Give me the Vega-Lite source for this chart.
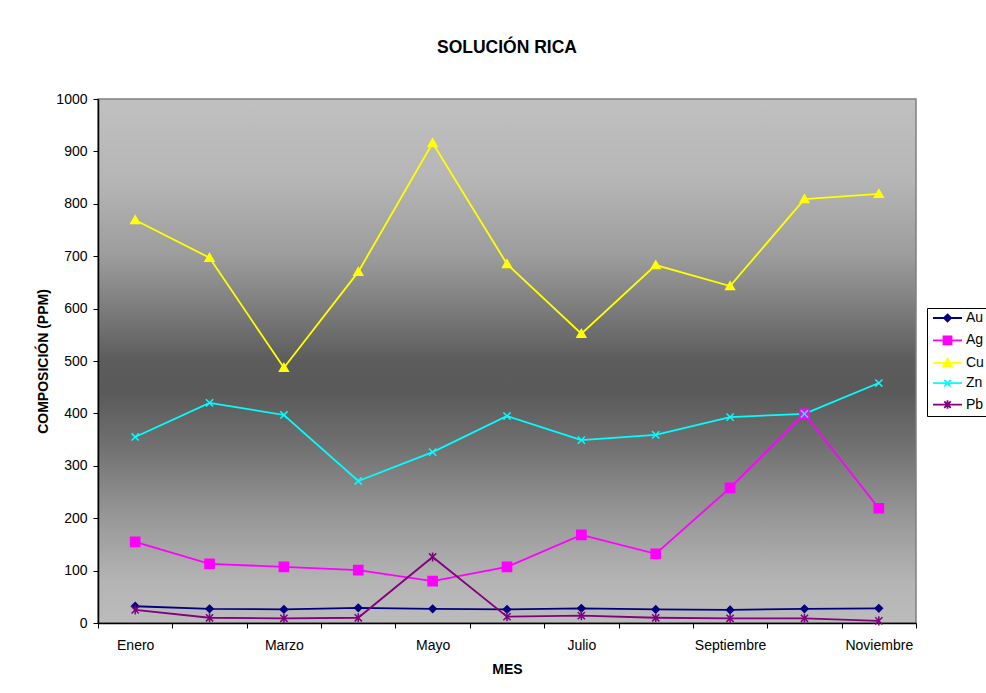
{
  "$schema": "https://vega.github.io/schema/vega-lite/v6.json",
  "width": 818,
  "height": 524,
  "autosize": {"type": "none"},
  "padding": {"left": 98, "top": 99, "right": 70, "bottom": 70},
  "background": "white",
  "title": {"text": "SOLUCIÓN RICA", "fontSize": 17.5, "fontWeight": "bold", "font": "Liberation Sans", "color": "black", "anchor": "middle", "frame": "group", "offset": 36},
  "config": {
    "font": "Liberation Sans",
    "view": {
      "stroke": "#808080",
      "strokeWidth": 1.5,
      "fill": {"gradient": "linear", "x1": 0, "y1": 0, "x2": 0, "y2": 1, "stops": [
        {"offset": 0, "color": "#c0c0c0"},
        {"offset": 0.15, "color": "#b6b6b6"},
        {"offset": 0.3, "color": "#9c9c9c"},
        {"offset": 0.42, "color": "#767676"},
        {"offset": 0.5, "color": "#5c5c5c"},
        {"offset": 0.56, "color": "#5a5a5a"},
        {"offset": 0.66, "color": "#707070"},
        {"offset": 0.8, "color": "#989898"},
        {"offset": 0.92, "color": "#b4b4b4"},
        {"offset": 1, "color": "#bcbcbc"}
      ]}
    },
    "axis": {
      "domainColor": "black", "domainWidth": 1.5, "tickColor": "black", "tickWidth": 1, "tickSize": 5,
      "labelColor": "black", "labelFontSize": 14, "labelFont": "Liberation Sans",
      "titleColor": "black", "titleFontSize": 14, "titleFontWeight": "bold", "titleFont": "Liberation Sans",
      "grid": false
    },
    "legend": {"labelFont": "Liberation Sans"}
  },
  "data": {"values": [
    {"mes": "Enero", "metal": "Au", "valor": 32},
    {"mes": "Febrero", "metal": "Au", "valor": 27},
    {"mes": "Marzo", "metal": "Au", "valor": 26},
    {"mes": "Abril", "metal": "Au", "valor": 29},
    {"mes": "Mayo", "metal": "Au", "valor": 27},
    {"mes": "Junio", "metal": "Au", "valor": 26},
    {"mes": "Julio", "metal": "Au", "valor": 28},
    {"mes": "Agosto", "metal": "Au", "valor": 26},
    {"mes": "Septiembre", "metal": "Au", "valor": 25},
    {"mes": "Octubre", "metal": "Au", "valor": 27},
    {"mes": "Noviembre", "metal": "Au", "valor": 28},
    {"mes": "Enero", "metal": "Ag", "valor": 155},
    {"mes": "Febrero", "metal": "Ag", "valor": 113},
    {"mes": "Marzo", "metal": "Ag", "valor": 107},
    {"mes": "Abril", "metal": "Ag", "valor": 101},
    {"mes": "Mayo", "metal": "Ag", "valor": 80},
    {"mes": "Junio", "metal": "Ag", "valor": 107},
    {"mes": "Julio", "metal": "Ag", "valor": 168},
    {"mes": "Agosto", "metal": "Ag", "valor": 132},
    {"mes": "Septiembre", "metal": "Ag", "valor": 258},
    {"mes": "Octubre", "metal": "Ag", "valor": 399},
    {"mes": "Noviembre", "metal": "Ag", "valor": 219},
    {"mes": "Enero", "metal": "Cu", "valor": 769},
    {"mes": "Febrero", "metal": "Cu", "valor": 697},
    {"mes": "Marzo", "metal": "Cu", "valor": 487},
    {"mes": "Abril", "metal": "Cu", "valor": 670},
    {"mes": "Mayo", "metal": "Cu", "valor": 916},
    {"mes": "Junio", "metal": "Cu", "valor": 685},
    {"mes": "Julio", "metal": "Cu", "valor": 552},
    {"mes": "Agosto", "metal": "Cu", "valor": 683},
    {"mes": "Septiembre", "metal": "Cu", "valor": 643},
    {"mes": "Octubre", "metal": "Cu", "valor": 809},
    {"mes": "Noviembre", "metal": "Cu", "valor": 819},
    {"mes": "Enero", "metal": "Zn", "valor": 355},
    {"mes": "Febrero", "metal": "Zn", "valor": 420},
    {"mes": "Marzo", "metal": "Zn", "valor": 397},
    {"mes": "Abril", "metal": "Zn", "valor": 271},
    {"mes": "Mayo", "metal": "Zn", "valor": 326},
    {"mes": "Junio", "metal": "Zn", "valor": 395},
    {"mes": "Julio", "metal": "Zn", "valor": 349},
    {"mes": "Agosto", "metal": "Zn", "valor": 359},
    {"mes": "Septiembre", "metal": "Zn", "valor": 393},
    {"mes": "Octubre", "metal": "Zn", "valor": 399},
    {"mes": "Noviembre", "metal": "Zn", "valor": 458},
    {"mes": "Enero", "metal": "Pb", "valor": 25},
    {"mes": "Febrero", "metal": "Pb", "valor": 10},
    {"mes": "Marzo", "metal": "Pb", "valor": 9},
    {"mes": "Abril", "metal": "Pb", "valor": 10},
    {"mes": "Mayo", "metal": "Pb", "valor": 126},
    {"mes": "Junio", "metal": "Pb", "valor": 12},
    {"mes": "Julio", "metal": "Pb", "valor": 14},
    {"mes": "Agosto", "metal": "Pb", "valor": 10},
    {"mes": "Septiembre", "metal": "Pb", "valor": 9},
    {"mes": "Octubre", "metal": "Pb", "valor": 9},
    {"mes": "Noviembre", "metal": "Pb", "valor": 4}
  ]},
  "encoding": {
    "x": {
      "field": "mes", "type": "ordinal", "bandPosition": 0.5,
      "sort": ["Enero", "Febrero", "Marzo", "Abril", "Mayo", "Junio", "Julio", "Agosto", "Septiembre", "Octubre", "Noviembre"],
      "scale": {"type": "band", "paddingInner": 0, "paddingOuter": 0},
      "axis": {"title": "MES", "labelAngle": 0, "tickBand": "extent", "labelPadding": 10, "titlePadding": 10,
        "labelExpr": "indexof(['Enero','Marzo','Mayo','Julio','Septiembre','Noviembre'], datum.value) >= 0 ? datum.value : ''"}
    },
    "y": {
      "field": "valor", "type": "quantitative",
      "scale": {"domain": [0, 1000], "nice": false},
      "axis": {"title": "COMPOSICIÓN (PPM)", "format": "d", "values": [0, 100, 200, 300, 400, 500, 600, 700, 800, 900, 1000], "labelPadding": 6, "titlePadding": 5}
    }
  },
  "layer": [
    {
      "mark": {"type": "line", "strokeWidth": 1.8},
      "encoding": {
        "color": {"field": "metal", "type": "nominal", "scale": {"domain": ["Au", "Ag", "Cu", "Zn", "Pb"], "range": ["#000080", "#ff00ff", "#ffff00", "#00ffff", "#800080"]}, "legend": null}
      }
    },
    {
      "mark": {"type": "point", "filled": true, "size": 64, "strokeWidth": 1.5, "opacity": 1},
      "encoding": {
        "color": {"field": "metal", "type": "nominal", "scale": {"domain": ["Au", "Ag", "Cu", "Zn", "Pb"], "range": ["#000080", "#ff00ff", "#ffff00", "#00ffff", "#800080"]}, "legend": null},
        "stroke": {"field": "metal", "type": "nominal", "scale": {"domain": ["Au", "Ag", "Cu", "Zn", "Pb"], "range": ["#000080", "#ff00ff", "#ffff00", "#00ffff", "#800080"]}, "legend": null},
        "shape": {"field": "metal", "type": "nominal", "scale": {"domain": ["Au", "Ag", "Cu", "Zn", "Pb"], "range": [
          "M0,-0.9L0.9,0L0,0.9L-0.9,0Z",
          "M-1.15,-1.15L1.15,-1.15L1.15,1.15L-1.15,1.15Z",
          "M0,-1.05L1.1,0.85L-1.1,0.85Z",
          "M-0.9,-0.9L0.9,0.9M-0.9,0.9L0.9,-0.9",
          "M-0.9,-0.9L0.9,0.9M-0.9,0.9L0.9,-0.9M0,-1.15L0,1.15"
        ]}, "legend": null}
      }
    },
    {
      "mark": {"type": "point", "filled": true, "opacity": 0, "strokeWidth": 1.8},
      "encoding": {
        "color": {"field": "metal", "type": "nominal", "scale": {"domain": ["Au", "Ag", "Cu", "Zn", "Pb"], "range": ["#000080", "#ff00ff", "#ffff00", "#00ffff", "#800080"]}, "legend": {"orient": "none", "legendX": 829, "legendY": 209, "title": null}},
        "stroke": {"field": "metal", "type": "nominal", "scale": {"domain": ["Au", "Ag", "Cu", "Zn", "Pb"], "range": ["#000080", "#ff00ff", "#ffff00", "#00ffff", "#800080"]}, "legend": {"orient": "none", "legendX": 829, "legendY": 209, "title": null}},
        "shape": {"field": "metal", "type": "nominal", "scale": {"domain": ["Au", "Ag", "Cu", "Zn", "Pb"], "range": [
          "M-2.9,0L2.9,0M0,-0.7L0.7,0L0,0.7L-0.7,0Z",
          "M-2.9,0L2.9,0M-0.8,-0.8L0.8,-0.8L0.8,0.8L-0.8,0.8Z",
          "M-2.9,0L2.9,0M0,-0.85L0.85,0.65L-0.85,0.65Z",
          "M-2.9,0L2.9,0M-0.65,-0.65L0.65,0.65M-0.65,0.65L0.65,-0.65",
          "M-2.9,0L2.9,0M-0.65,-0.65L0.65,0.65M-0.65,0.65L0.65,-0.65M0,-0.85L0,0.85"
        ]}, "legend": {
          "orient": "none", "legendX": 829, "legendY": 209, "title": null,
          "padding": 3, "rowPadding": 6.4, "labelFontSize": 14, "labelColor": "black",
          "symbolSize": 100, "symbolOffset": 10.5, "labelOffset": 11.5, "symbolStrokeWidth": 1.8, "symbolOpacity": 1,
          "strokeColor": "black", "fillColor": "white"
        }}
      }
    }
  ],
  "resolve": {"scale": {"shape": "independent", "color": "independent", "stroke": "independent"}}
}
